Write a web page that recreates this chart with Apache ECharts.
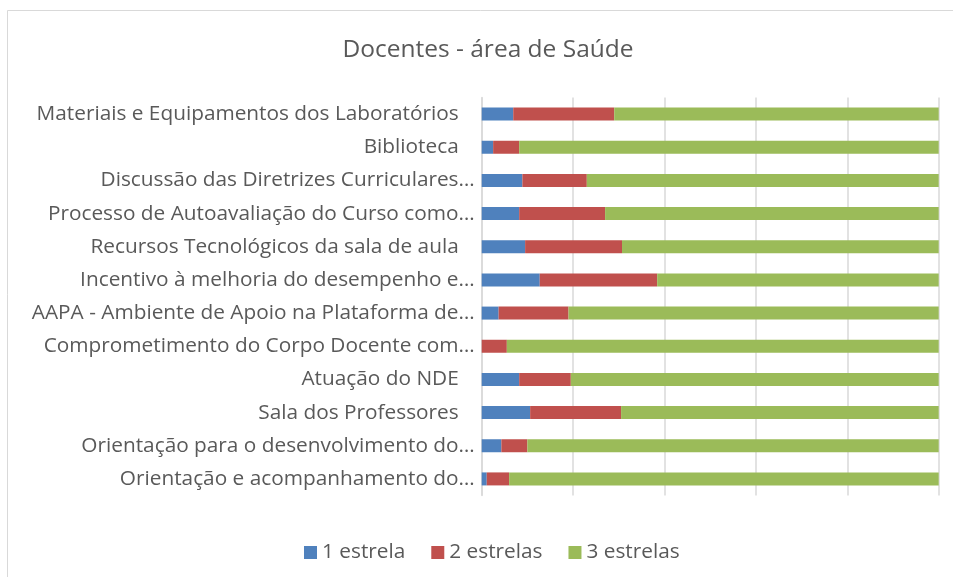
<!DOCTYPE html>
<html>
<head>
<meta charset="utf-8">
<title>Docentes - área de Saúde</title>
<script src="https://cdn.jsdelivr.net/npm/echarts@6/dist/echarts.min.js"></script>
<style>
  html, body { margin: 0; padding: 0; background: #fff; }
  #chart { width: 953px; height: 577px; }
</style>
</head>
<body>
<div id="chart"></div>
<script>
// Evaluated items, top to bottom
const categories = [
  'Materiais e Equipamentos dos Laboratórios',
  'Biblioteca',
  'Discussão das Diretrizes Curriculares…',
  'Processo de Autoavaliação do Curso como…',
  'Recursos Tecnológicos da sala de aula',
  'Incentivo à melhoria do desempenho e…',
  'AAPA - Ambiente de Apoio na Plataforma de…',
  'Comprometimento do Corpo Docente com…',
  'Atuação do NDE',
  'Sala dos Professores',
  'Orientação para o desenvolvimento do…',
  'Orientação e acompanhamento do…'
];

// Share of answers (%) per rating
const umaEstrela = [6.9, 2.5, 8.9, 8.2, 9.5, 12.7, 3.7, 0.0, 8.2, 10.6, 4.3, 1.1];
const duasEstrelas = [22.1, 5.7, 14.1, 18.8, 21.2, 25.7, 15.3, 5.5, 11.3, 19.9, 5.7, 4.9];
const tresEstrelas = [71.0, 91.8, 77.0, 73.0, 69.3, 61.6, 81.0, 94.5, 80.5, 69.5, 90.0, 94.0];

const seriesNames = ['1 estrela', '2 estrelas', '3 estrelas'];
const xTicks = [0, 20, 40, 60, 80, 100];

const FONT = '"Open Sans", sans-serif';
const TEXT = '#595959';
const GRID_LINE = '#d9d9d9';
const LABEL_SIZE = 20.8;

const chart = echarts.init(document.getElementById('chart'), null, { renderer: 'canvas' });

function barSeries(name, data, color) {
  return {
    name: name,
    type: 'bar',
    stack: 'total',
    data: data,
    barWidth: 13,
    itemStyle: { color: color },
    emphasis: { disabled: true }
  };
}

chart.setOption({
  animation: false,
  backgroundColor: '#fff',
  graphic: [{
    type: 'rect',
    shape: { x: 7.5, y: 10.5, width: 960, height: 600 },
    style: { fill: 'none', stroke: GRID_LINE, lineWidth: 1 },
    silent: true,
    z: -1
  }],
  title: {
    text: 'Docentes - área de Saúde',
    left: 483,
    top: 33,
    textAlign: 'center',
    textStyle: { fontFamily: FONT, fontSize: 24.5, fontWeight: 'normal', color: TEXT }
  },
  legend: {
    data: seriesNames,
    left: 299,
    top: 537,
    itemWidth: 13,
    itemHeight: 13,
    itemGap: 26,
    icon: 'rect',
    textStyle: { fontFamily: FONT, fontSize: LABEL_SIZE, color: TEXT }
  },
  grid: { left: 481.7, right: 14.3, top: 97.5, height: 398, containLabel: false },
  xAxis: {
    type: 'value',
    min: xTicks[0],
    max: xTicks[xTicks.length - 1],
    interval: xTicks[1] - xTicks[0],
    axisLabel: { show: false },
    axisLine: { show: false },
    axisTick: { show: false },
    splitLine: { lineStyle: { color: GRID_LINE, width: 1.5 } }
  },
  yAxis: {
    type: 'category',
    data: categories,
    inverse: true,
    axisLine: { lineStyle: { color: GRID_LINE, width: 1.5 } },
    axisTick: { length: 7, lineStyle: { color: GRID_LINE, width: 1.5 } },
    axisLabel: {
      margin: 7,
      fontFamily: FONT,
      fontSize: LABEL_SIZE,
      color: TEXT,
      formatter: function (v) {
        return v.endsWith('…') ? v : '{pad|' + v + '}';
      },
      rich: {
        pad: { fontFamily: FONT, fontSize: LABEL_SIZE, color: TEXT, padding: [0, 16, 0, 0] }
      }
    }
  },
  series: [
    barSeries(seriesNames[0], umaEstrela, '#4f81bd'),
    barSeries(seriesNames[1], duasEstrelas, '#c0504d'),
    barSeries(seriesNames[2], tresEstrelas, '#9bbb59')
  ]
});
</script>
</body>
</html>
